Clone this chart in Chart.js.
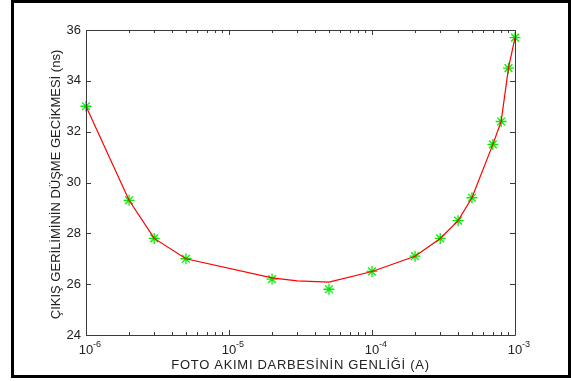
<!DOCTYPE html>
<html>
<head>
<meta charset="utf-8">
<script src="https://cdn.jsdelivr.net/npm/chart.js@4"></script>
<style>
  html, body { margin: 0; padding: 0; background: #fff; }
  #wrap { width: 571px; height: 381px; }
</style>
</head>
<body>
<div id="wrap"><canvas id="myChart" width="571" height="381"></canvas></div>
<script>
// measured points (green stars)
const current = [1e-6, 2e-6, 3e-6, 5e-6, 2e-5, 5e-5, 1e-4, 2e-4, 3e-4, 4e-4, 5e-4, 7e-4, 8e-4, 9e-4, 1e-3]
const delay = [33.0, 29.3, 27.8, 27.0, 26.2, 25.8, 26.5, 27.1, 27.8, 28.5, 29.4, 31.5, 32.4, 34.5, 35.7]
// red curve
const fitCurrent = [1e-6, 2e-6, 3e-6, 5e-6, 2e-5, 3e-5, 5e-5, 1e-4, 2e-4, 3e-4, 4e-4, 5e-4, 7e-4, 8e-4, 9e-4, 1e-3]
const fitDelay = [33.0, 29.3, 27.8, 27.0, 26.25, 26.13, 26.08, 26.5, 27.1, 27.8, 28.5, 29.4, 31.5, 32.4, 34.5, 35.7]
// axes
const yTicks = [24, 26, 28, 30, 32, 34, 36]
const xDecades = [-6, -5, -4, -3]
const xTitle = 'FOTO AKIMI DARBESİNİN GENLİĞİ (A)'
const yTitle = 'ÇIKIŞ GERİLİMİNİN DÜŞME GECİKMESİ (ns)'

const axisColor = '#3a3a3a'
const font = '13px "Liberation Sans", Arial, sans-serif'
const supFont = '9px "Liberation Sans", Arial, sans-serif'

const matlabAxes = {
    id: 'matlabAxes',
    beforeDraw(chart) {
        const c = chart.ctx
        c.save()
        c.fillStyle = '#fff'
        c.fillRect(0, 0, chart.width, chart.height)
        // outer frame
        c.strokeStyle = '#000'
        c.lineWidth = 3
        c.strokeRect(12.5, 1.5, 557, 375)
        c.restore()
    },
    afterDatasetsDraw(chart) {
        const c = chart.ctx
        const a = chart.chartArea
        const xs = chart.scales.x, ys = chart.scales.y
        c.save()
        c.strokeStyle = axisColor
        c.lineWidth = 1
        c.beginPath()
        c.rect(Math.round(a.left) + 0.5, Math.round(a.top) + 0.5, Math.round(a.right - a.left), Math.round(a.bottom - a.top))
        // y ticks
        yTicks.forEach(v => {
            const y = Math.round(ys.getPixelForValue(v)) + 0.5
            c.moveTo(a.left, y); c.lineTo(a.left + 5, y)
            c.moveTo(a.right, y); c.lineTo(a.right - 5, y)
        })
        // x ticks (major + minor)
        xDecades.forEach((d, i) => {
            for (let m = 1; m <= 9; m++) {
                if (m > 1 && i === xDecades.length - 1) break
                const x = Math.round(xs.getPixelForValue(m * Math.pow(10, d))) + 0.5
                const len = m === 1 ? 5 : 3
                c.moveTo(x, a.bottom); c.lineTo(x, a.bottom - len)
                c.moveTo(x, a.top); c.lineTo(x, a.top + len)
            }
        })
        c.stroke()

        // tick labels
        c.fillStyle = '#222'
        c.font = font
        c.textAlign = 'right'
        c.textBaseline = 'middle'
        yTicks.forEach(v => {
            c.fillText(String(v), a.left - 5, ys.getPixelForValue(v))
        })
        xDecades.forEach(d => {
            const x = xs.getPixelForValue(Math.pow(10, d))
            c.font = font
            c.textAlign = 'center'
            c.textBaseline = 'alphabetic'
            c.fillText('10', x, a.bottom + 19)
            c.font = supFont
            c.textAlign = 'left'
            c.fillText(String(d), x + 7, a.bottom + 12)
        })

        // axis titles
        c.font = font
        c.textAlign = 'center'
        c.textBaseline = 'alphabetic'
        c.letterSpacing = '0.7px'
        c.fillText(xTitle, (a.left + a.right) / 2, a.bottom + 34)
        c.letterSpacing = '0px'
        c.translate(a.left - 26, (a.top + a.bottom) / 2 + 2)
        c.rotate(-Math.PI / 2)
        c.fillText(yTitle, 0, 0)
        c.restore()
    }
}

const ctx = document.getElementById('myChart').getContext('2d')
const myChart = new Chart(ctx, {
    type: 'line',
    data: {
        datasets: [
            {
                label: 'fit',
                data: fitCurrent.map((x, i) => ({ x: x, y: fitDelay[i] })),
                borderColor: 'rgb(255,0,0)',
                borderWidth: 1.2,
                pointRadius: 0,
                tension: 0,
                fill: false,
                clip: false,
                order: 0
            },
            {
                label: 'measured',
                data: current.map((x, i) => ({ x: x, y: delay[i] })),
                showLine: false,
                pointStyle: 'star',
                pointRadius: 5.5,
                pointBorderColor: '#00ee00',
                pointBackgroundColor: '#00ee00',
                pointBorderWidth: 1.3,
                clip: false,
                order: 1
            }
        ]
    },
    options: {
        responsive: false,
        animation: false,
        layout: { padding: { left: 86, top: 30, right: 56, bottom: 46 } },
        plugins: { legend: { display: false }, tooltip: { enabled: false } },
        scales: {
            x: { type: 'logarithmic', min: 1e-6, max: 1e-3, display: false },
            y: { type: 'linear', min: 24, max: 36, display: false }
        }
    },
    plugins: [matlabAxes]
})
</script>
</body>
</html>
